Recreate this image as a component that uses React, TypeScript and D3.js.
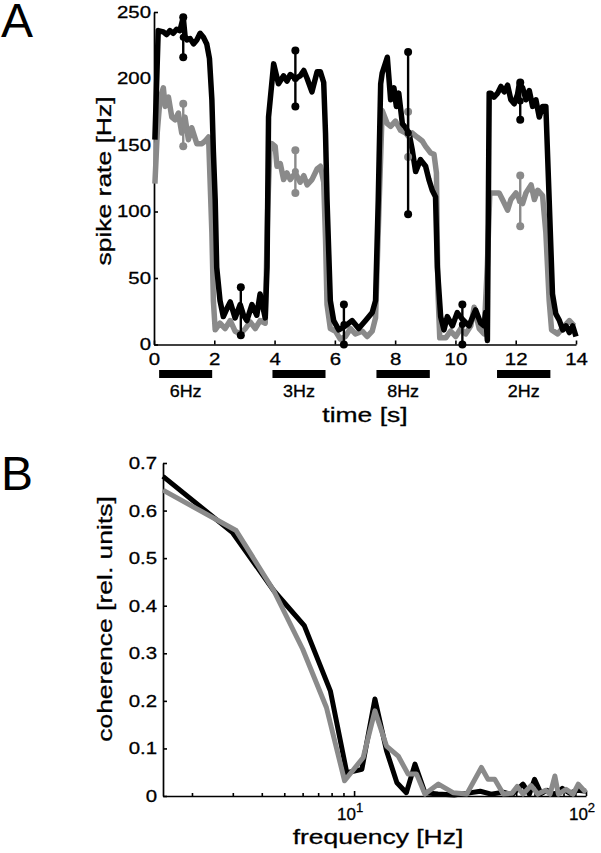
import { useEffect, useRef } from 'react'
import * as d3 from 'd3'

// Panel A: spike rate traces, time [s] vs rate [Hz]
const blackT = [0.03, 0.14, 0.31, 0.42, 0.53, 0.64, 0.75, 0.86, 0.97, 1.03, 1.09, 1.2, 1.31, 1.42, 1.53, 1.64, 1.75, 1.84, 1.92, 1.97, 2.03, 2.08, 2.19, 2.3, 2.42, 2.53, 2.69, 2.86, 2.97, 3.08, 3.25, 3.41, 3.52, 3.69, 3.75, 3.8,
  3.97, 4.13, 4.3, 4.41, 4.52, 4.69, 4.85, 4.97, 5.08, 5.24, 5.41, 5.52, 5.63, 5.69, 5.74, 5.85, 5.96, 6.13, 6.35, 6.57, 6.79, 7.02, 7.24, 7.35, 7.44, 7.52,
  7.57, 7.74, 7.85, 7.96, 8.04, 8.12, 8.24, 8.35, 8.46, 8.57, 8.68, 8.84, 9.01, 9.12, 9.23, 9.34, 9.4, 9.51, 9.62, 9.73, 9.9, 10.06, 10.23, 10.45, 10.67, 10.84, 10.95, 11.0, 11.06, 11.12,
  11.17, 11.28, 11.4, 11.51, 11.62, 11.73, 11.84, 11.95, 12.06, 12.12, 12.23, 12.34, 12.45, 12.56, 12.67, 12.78, 12.89, 13.0, 13.11, 13.22, 13.33, 13.45, 13.56, 13.67, 13.78, 13.89, 14.0]
const blackV = [154, 236, 235, 233, 236, 234, 237, 236, 246, 232, 229, 230, 226, 229, 234, 231, 226, 215, 184, 145, 109, 58, 33, 21, 27, 32, 20, 30, 22, 18, 30, 22, 38, 20, 58, 171,
  211, 196, 202, 198, 203, 200, 202, 206, 200, 190, 205, 205, 197, 159, 109, 33, 18, 11, 14, 18, 12, 18, 24, 33, 109, 196,
  204, 216, 184, 193, 179, 189, 166, 163, 159, 146, 130, 139, 134, 124, 116, 111, 58, 21, 11, 21, 14, 24, 19, 14, 26, 16, 14, 24, 3, 189,
  189, 186, 189, 194, 190, 195, 184, 181, 188, 196, 193, 184, 191, 179, 184, 171, 179, 179, 109, 38, 23, 18, 11, 14, 9, 14, 6]

const grayT = [0.03, 0.11, 0.2, 0.31, 0.37, 0.48, 0.59, 0.7, 0.81, 0.92, 1.03, 1.14, 1.25, 1.42, 1.59, 1.7, 1.81, 1.92, 1.97, 2.03, 2.19, 2.36, 2.53, 2.69, 2.86, 3.03, 3.19, 3.36, 3.52, 3.69, 3.77, 3.84,
  3.91, 4.02, 4.08, 4.19, 4.3, 4.41, 4.52, 4.69, 4.85, 4.97, 5.08, 5.24, 5.41, 5.52, 5.63, 5.69, 5.74, 5.85, 6.02, 6.18, 6.35, 6.52, 6.68, 6.91, 7.07, 7.24, 7.35, 7.46, 7.57,
  7.74, 7.85, 8.01, 8.18, 8.35, 8.46, 8.57, 8.73, 8.9, 9.01, 9.18, 9.29, 9.37, 9.42, 9.48, 9.68, 9.84, 10.01, 10.18, 10.34, 10.51, 10.62, 10.79, 10.95, 11.06, 11.14,
  11.22, 11.45, 11.56, 11.73, 11.84, 12.01, 12.12, 12.23, 12.34, 12.51, 12.62, 12.73, 12.89, 13.0, 13.11, 13.19, 13.39, 13.62, 13.78, 13.94]
const grayV = [121, 160, 185, 193, 179, 186, 171, 169, 174, 159, 171, 154, 163, 151, 151, 153, 156, 84, 33, 11, 16, 12, 18, 10, 8, 12, 17, 12, 18, 16, 100, 145,
  151, 149, 134, 136, 124, 129, 124, 129, 122, 127, 120, 124, 132, 134, 122, 80, 30, 12, 10, 4, 6, 12, 8, 10, 6, 10, 20, 100, 176,
  166, 164, 168, 161, 159, 156, 159, 156, 153, 149, 144, 143, 129, 40, 5, 5, 10, 6, 12, 8, 14, 28, 12, 8, 60, 114,
  114, 114, 109, 101, 109, 114, 109, 106, 114, 120, 109, 116, 112, 84, 33, 11, 8, 14, 18, 14]

// error bars: time, centre, half-width
const ebBlackT = [0.97, 2.88, 4.69, 6.3, 8.43, 10.23, 12.15]
const ebBlackMid = [231, 25, 200, 15, 159, 15, 183]
const ebBlackHalf = [15, 18, 21, 15, 61, 15, 14]
const ebGrayT = [0.97, 4.69, 8.43, 12.15]
const ebGrayMid = [165, 130, 158, 108]
const ebGrayHalf = [16, 16, 17, 19]

// stimulus bars
const stimOn = [0.17, 3.93, 7.38, 11.38]
const stimOff = [1.93, 5.69, 9.15, 13.15]
const stimLabels = ['6Hz', '3Hz', '8Hz', '2Hz']

const timeTicks = [0, 2, 4, 6, 8, 10, 12, 14]
const rateTicks = [0, 50, 100, 150, 200, 250]

// Panel B: coherence vs frequency
const freqBlack = [1.5, 3.0, 4.5, 6.1, 7.9, 9.3, 10.8, 12.3, 13.8, 15.3, 16.8, 18.3, 20.2, 23, 27, 31, 35, 39, 44, 48, 53.5, 57, 60, 64, 68, 73, 79, 85, 92, 100]
const cohBlack = [0.672, 0.553, 0.432, 0.358, 0.221, 0.049, 0.056, 0.204, 0.095, 0.028, 0.007, 0.067, 0.007, 0.004, 0.002, 0.006, 0.01, 0.004, 0.008, 0.003, 0.025, 0.004, 0.035, 0.005, 0.012, 0.003, 0.016, 0.006, 0.012, 0.01]
const freqGray = [1.5, 3.1, 4.5, 6.0, 7.6, 9.1, 10.95, 12.3, 13.8, 15.5, 17.1, 18.6, 20.2, 23.1, 26.7, 30.6, 35.4, 37.8, 40.4, 44, 48, 50.5, 53.5, 58, 62, 67, 70, 73.4, 76, 82, 88, 92.6, 100]
const cohGray = [0.643, 0.558, 0.432, 0.309, 0.186, 0.032, 0.081, 0.179, 0.105, 0.084, 0.046, 0.046, 0.004, 0.025, 0.007, 0.004, 0.06, 0.035, 0.035, 0.004, 0.006, 0.02, 0.004, 0.022, 0.004, 0.012, 0.004, 0.042, 0.004, 0.014, 0.004, 0.025, 0.007]

const cohTicks = [0, 0.1, 0.2, 0.3, 0.4, 0.5, 0.6, 0.7]
const freqMajor = [10, 100]
const freqMinor = [2, 3, 4, 5, 6, 7, 8, 9, 20, 30, 40, 50, 60, 70, 80, 90]

const FONT = '"Liberation Sans", Arial, sans-serif'
const GRAY = '#8a8a8a'

// glyphs in the original are wider than Arial, so stretch text horizontally
function stretch(sel: d3.Selection<any, any, any, any>, k: number) {
  sel.each(function (this: SVGTextElement) {
    const w = this.getComputedTextLength()
    d3.select(this).attr('textLength', w * k).attr('lengthAdjust', 'spacingAndGlyphs')
  })
}

function styleAxis(g: d3.Selection<SVGGElement, unknown, null, undefined>, size: number) {
  g.attr('font-family', FONT).attr('font-size', size)
  g.select('.domain').attr('stroke', '#000').attr('stroke-width', 1.7)
  g.selectAll('.tick line').attr('stroke', '#000').attr('stroke-width', 1.6)
  g.selectAll('.tick text').attr('fill', '#000').attr('stroke', '#000').attr('stroke-width', 0.3)
  stretch(g.selectAll('.tick text'), 1.2)
}

export default function App() {
  const ref = useRef<SVGSVGElement>(null)

  useEffect(() => {
    const svg = d3.select(ref.current!)
    svg.selectAll('*').remove()

    // ---------- Panel A ----------
    const xA = d3.scaleLinear().domain([0, 14]).range([154, 576])
    const yA = d3.scaleLinear().domain([0, 250]).range([344.5, 12])

    svg.append('text').attr('x', 1).attr('y', 37).attr('font-family', FONT).attr('font-size', 48).text('A')

    const ay = svg.append('g').attr('transform', `translate(${xA(0)},0)`)
      .call(d3.axisLeft(yA).tickValues(rateTicks).tickSizeInner(-4).tickSizeOuter(0).tickPadding(3))
    styleAxis(ay, 17)
    const ax = svg.append('g').attr('transform', `translate(0,${yA(0)})`)
      .call(d3.axisBottom(xA).tickValues(timeTicks).tickSizeInner(-4).tickSizeOuter(0).tickPadding(8))
    styleAxis(ax, 17)

    const lineA = (T: number[], V: number[]) =>
      d3.line<number>().x((_, i) => xA(T[i])).y(v => yA(v))(V)

    svg.append('path').attr('d', lineA(grayT, grayV)).attr('fill', 'none')
      .attr('stroke', GRAY).attr('stroke-width', 5.5).attr('stroke-linejoin', 'round')
    svg.append('path').attr('d', lineA(blackT, blackV)).attr('fill', 'none')
      .attr('stroke', '#000').attr('stroke-width', 5.5).attr('stroke-linejoin', 'round')

    const errBars = (T: number[], M: number[], H: number[], col: string) => {
      T.forEach((t, i) => {
        const x = xA(t)
        svg.append('line').attr('x1', x).attr('x2', x)
          .attr('y1', yA(M[i] - H[i])).attr('y2', yA(M[i] + H[i]))
          .attr('stroke', col).attr('stroke-width', 2.4)
        ;[M[i] - H[i], M[i], M[i] + H[i]].forEach((v, j) => {
          svg.append('circle').attr('cx', x).attr('cy', yA(v)).attr('r', j === 1 ? 3.5 : 4).attr('fill', col)
        })
      })
    }
    errBars(ebGrayT, ebGrayMid, ebGrayHalf, GRAY)
    errBars(ebBlackT, ebBlackMid, ebBlackHalf, '#000')

    // stimulus bars
    stimOn.forEach((s, i) => {
      svg.append('rect').attr('x', xA(s)).attr('y', 370).attr('width', xA(stimOff[i]) - xA(s)).attr('height', 8).attr('fill', '#000')
      const t = svg.append('text').attr('x', (xA(s) + xA(stimOff[i])) / 2).attr('y', 397)
        .attr('text-anchor', 'middle').attr('font-family', FONT).attr('font-size', 16)
        .attr('stroke', '#000').attr('stroke-width', 0.3).text(stimLabels[i])
      stretch(t, 1.12)
    })

    const tl = svg.append('text').attr('x', (xA(0) + xA(14)) / 2).attr('y', 422)
      .attr('text-anchor', 'middle').attr('font-family', FONT).attr('font-size', 21)
      .attr('stroke', '#000').attr('stroke-width', 0.3).text('time [s]')
    stretch(tl, 1.26)
    const yl = svg.append('text').attr('transform', `translate(111,181) rotate(-90)`)
      .attr('text-anchor', 'middle').attr('font-family', FONT).attr('font-size', 21)
      .attr('stroke', '#000').attr('stroke-width', 0.3).text('spike rate [Hz]')
    stretch(yl, 1.26)

    // ---------- Panel B ----------
    const xB = d3.scaleLog().domain([1.5, 100]).range([163, 586])
    const yB = d3.scaleLinear().domain([0, 0.7]).range([796, 463])

    svg.append('text').attr('x', 1).attr('y', 490).attr('font-family', FONT).attr('font-size', 48).text('B')

    const by = svg.append('g').attr('transform', `translate(${xB(1.5)},0)`)
      .call(d3.axisLeft(yB).tickValues(cohTicks).tickSizeInner(-4).tickSizeOuter(0).tickPadding(6)
        .tickFormat(d => (+d === 0 ? '0' : d3.format('.1f')(+d))))
    styleAxis(by, 17)

    const bxMinor = svg.append('g').attr('transform', `translate(0,${yB(0)})`)
      .call(d3.axisBottom(xB).tickValues(freqMinor).tickSizeInner(-3).tickSizeOuter(0).tickFormat(() => ''))
    styleAxis(bxMinor, 17)
    const bxMajor = svg.append('g').attr('transform', `translate(0,${yB(0)})`)
      .call(d3.axisBottom(xB).tickValues(freqMajor).tickSizeInner(-5).tickSizeOuter(0).tickFormat(() => ''))
    styleAxis(bxMajor, 17)
    bxMajor.select('.domain').remove()

    freqMajor.forEach(f => {
      const t = svg.append('text').attr('x', xB(f) - 4).attr('y', 820)
        .attr('text-anchor', 'middle').attr('font-family', FONT).attr('font-size', 17)
        .attr('stroke', '#000').attr('stroke-width', 0.3).text('10')
      t.append('tspan').attr('dy', -8).attr('font-size', 13).text(String(Math.round(Math.log10(f))))
    })

    const lineB = (F: number[], C: number[]) =>
      d3.line<number>().x((_, i) => xB(F[i])).y(c => yB(c))(C)
    svg.append('path').attr('d', lineB(freqBlack, cohBlack)).attr('fill', 'none')
      .attr('stroke', '#000').attr('stroke-width', 5).attr('stroke-linejoin', 'round')
    svg.append('path').attr('d', lineB(freqGray, cohGray)).attr('fill', 'none')
      .attr('stroke', GRAY).attr('stroke-width', 5).attr('stroke-linejoin', 'round')

    const fl = svg.append('text').attr('x', 378).attr('y', 844)
      .attr('text-anchor', 'middle').attr('font-family', FONT).attr('font-size', 21)
      .attr('stroke', '#000').attr('stroke-width', 0.3).text('frequency [Hz]')
    stretch(fl, 1.26)
    const cl = svg.append('text').attr('transform', `translate(112,619) rotate(-90)`)
      .attr('text-anchor', 'middle').attr('font-family', FONT).attr('font-size', 21)
      .attr('stroke', '#000').attr('stroke-width', 0.3).text('coherence [rel. units]')
    stretch(cl, 1.26)
  }, [])

  return (
    <svg ref={ref} width={601} height={853}
      style={{ position: 'absolute', left: 0, top: 0, background: '#fff' }} />
  )
}
